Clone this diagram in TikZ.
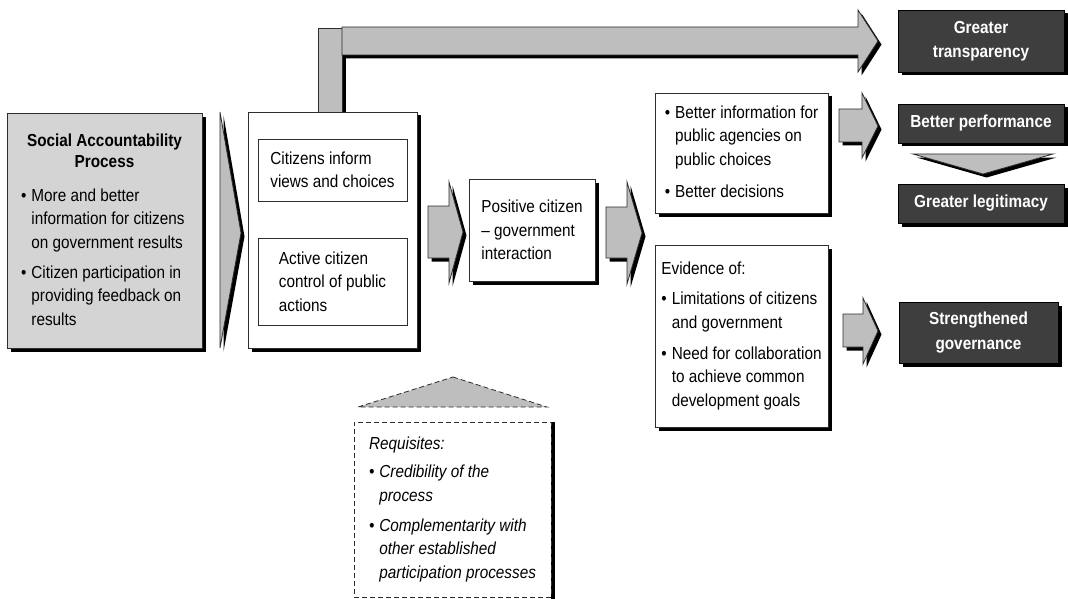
\documentclass[tikz,border=0pt]{standalone}
\usepackage{fontspec}
\setmainfont{Liberation Sans}[FakeStretch=0.88]
\usetikzlibrary{shadows, positioning}

\definecolor{panelgray}{RGB}{212,212,212}
\definecolor{arrowgray}{RGB}{190,190,190}
\definecolor{outcomegray}{RGB}{62,62,62}
\definecolor{edgegray}{RGB}{45,45,45}

\begin{document}
\begin{tikzpicture}[
    x=1pt, y=-1pt,
    font=\fontsize{17.4}{23.5}\selectfont,
    castshadow/.style={drop shadow={shadow xshift=3.5pt, shadow yshift=-3.5pt, fill=black, opacity=1}},
    stage/.style={rectangle, draw=edgegray, line width=0.8pt, fill=white, inner sep=0pt, castshadow},
    inner/.style={rectangle, draw=edgegray, line width=0.8pt, fill=white, inner sep=0pt, align=left},
    outcome/.style={rectangle, draw=black, line width=0.8pt, fill=outcomegray, inner sep=0pt,
        text=white, font=\fontsize{17.4}{24.5}\selectfont\bfseries, align=center, castshadow},
    blockarrow/.style={draw=edgegray, line width=0.8pt, fill=arrowgray, line join=miter, castshadow},
    requisite/.style={rectangle, draw=edgegray, line width=0.8pt, dash pattern=on 5pt off 3pt, fill=white, inner sep=0pt,
        font=\fontsize{17.4}{23.5}\selectfont\itshape}
]
\useasboundingbox (0,0) rectangle (1068,599);

% process and its feed
\node[stage, fill=panelgray, minimum width=195pt, minimum height=235pt] (process) at (104.5,231) {%
\begin{tabular}{@{}l@{\hspace{5pt}}l@{}}
\multicolumn{2}{c}{\bfseries Social Accountability}\\[-2.5pt]
\multicolumn{2}{c}{\bfseries Process}\\[10.5pt]
\textbullet & More and better\\
 & information for citizens\\
 & on government results\\[6.5pt]
\textbullet & Citizen participation in\\
 & providing feedback on\\
 & results
\end{tabular}};
\filldraw[blockarrow] (220,112) -- (241,233) -- (220,348) -- cycle;

% top route to transparency
\filldraw[blockarrow] (318,28) rectangle (342,112);
\filldraw[blockarrow] (342,27) -- (858,27) -- (858,10) -- (878,41) -- (858,72) -- (858,55) -- (342,55) -- cycle;

% citizen channels
\node[stage, minimum width=169pt, minimum height=236pt] (channels) at (332.5,230) {};
\node[inner, minimum width=149pt, minimum height=62pt] (inform) at (332.5,170) {Citizens inform\\views and choices};
\node[inner, minimum width=149pt, minimum height=87pt] (control) at (332.5,281.5) {Active citizen\\control of public\\actions};

\filldraw[blockarrow] (428,206) -- (449,206) -- (449,182) -- (463,232) -- (449,283) -- (449,258) -- (428,258) -- cycle;
\node[stage, align=left, minimum width=126pt, minimum height=102pt] (interaction) at (532,230) {Positive citizen\\– government\\interaction\hspace*{8pt}};

\filldraw[blockarrow] (606,207) -- (627,207) -- (627,182) -- (642,233) -- (627,284) -- (627,258) -- (606,258) -- cycle;

% effects
\node[stage, minimum width=173pt, minimum height=120pt] (info) at (741.5,153) {%
\begin{tabular}{@{}l@{\hspace{5pt}}l@{}}
\textbullet & Better information for\\
 & public agencies on\\
 & public choices\\[8.5pt]
\textbullet & Better decisions
\end{tabular}};
\node[stage, minimum width=173pt, minimum height=182pt] (evidence) at (741.5,336) {%
\begin{tabular}{@{}l@{\hspace{5pt}}l@{}}
\multicolumn{2}{@{}l@{}}{Evidence of:}\\[6.5pt]
\textbullet & Limitations of citizens\\
 & and government\\[7.5pt]
\textbullet & Need for collaboration\\
 & to achieve common\\
 & development goals
\end{tabular}};

\filldraw[blockarrow] (839,109) -- (862,109) -- (862,93) -- (878,126) -- (862,158) -- (862,142) -- (839,142) -- cycle;
\filldraw[blockarrow] (843,314) -- (863,314) -- (863,298) -- (878,331) -- (863,364) -- (863,347) -- (843,347) -- cycle;

% outcomes
\node[outcome, minimum width=166pt, minimum height=62pt] (transparency) at (981,41) {Greater\\transparency};
\node[outcome, minimum width=166pt, minimum height=39pt] (performance) at (981,123.5) {Better performance};
\filldraw[blockarrow] (913,154) -- (1053,154) -- (983,174) -- cycle;
\node[outcome, minimum width=166pt, minimum height=39pt] (legitimacy) at (981,203.5) {Greater legitimacy};
\node[outcome, minimum width=159pt, minimum height=61pt] (governance) at (978.5,332.5) {Strengthened\\governance};

% requisites
\filldraw[draw=edgegray, line width=0.8pt, fill=arrowgray, dash pattern=on 5pt off 3pt] (453,377) -- (547,407) -- (358,407) -- cycle;
\fill[black] (551,422) rectangle (554.5,599);
\node[requisite, minimum width=197pt, minimum height=175pt] (requisites) at (452.5,509.5) {%
\begin{tabular}{@{}l@{\hspace{5pt}}l@{}}
\multicolumn{2}{@{}l@{}}{Requisites:}\\[4.5pt]
\textbullet & Credibility of the\\
 & process\\[6.5pt]
\textbullet & Complementarity with\\
 & other established\\
 & participation processes
\end{tabular}};

\end{tikzpicture}
\end{document}
